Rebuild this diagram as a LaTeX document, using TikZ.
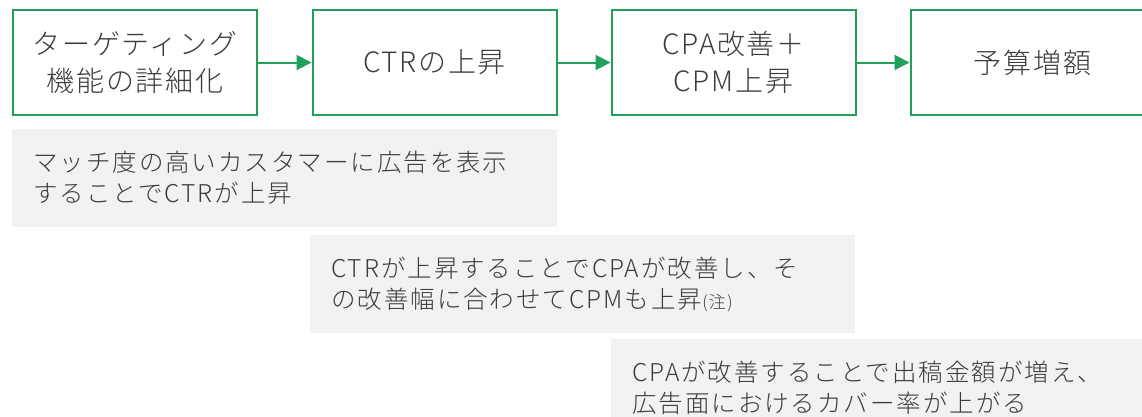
\documentclass[tikz,border=0pt]{standalone}
\usepackage{fontspec}
\setmainfont{Noto Sans CJK JP}[UprightFont={* Light}, BoldFont={* Bold}]
\usetikzlibrary{arrows.meta}
\definecolor{grn}{RGB}{33,160,92}
\definecolor{txt}{RGB}{60,60,60}
\definecolor{gbg}{RGB}{242,242,242}
\tikzset{
  stepbox/.style={draw=grn, line width=2pt, fill=white, minimum width=244pt, minimum height=105pt, align=center, text=txt, font=\fontsize{28}{37}\selectfont\addfontfeature{LetterSpace=6}, inner sep=0pt},
  note/.style={fill=gbg, anchor=north west, minimum width=545pt, minimum height=98pt, text width=503pt, inner xsep=21pt, inner ysep=0pt, align=left, text=txt, font=\fontsize{24.5}{31}\selectfont\addfontfeature{LetterSpace=8}},
  flow/.style={draw=grn, line width=2pt, -{Triangle[length=15pt,width=15pt]}}
}
\begin{document}
\begin{tikzpicture}[x=1pt,y=-1pt]
\useasboundingbox (0,0) rectangle (1142,416);
\fill[white] (0,0) rectangle (1142,416);
\node[stepbox] (b1) at (135,62.5) {ターゲティング\\機能の詳細化};
\node[stepbox] (b2) at (434.5,62.5) {CTRの上昇};
\node[stepbox] (b3) at (733.5,62.5) {CPA改善＋\\CPM上昇};
\node[stepbox] (b4) at (1032.5,62.5) {予算増額};
\draw[flow] (b1) -- (b2);
\draw[flow] (b2) -- (b3);
\draw[flow] (b3) -- (b4);
\node[note] (n1) at (12,129) {マッチ度の高いカスタマーに広告を表示\\することでCTRが上昇};
\node[note] (n2) at (310,235) {CTRが上昇することでCPAが改善し、そ\\の改善幅に合わせてCPMも上昇{\fontsize{17}{17}\selectfont(注)}};
\node[note] (n3) at (611,339) {CPAが改善することで出稿金額が増え、\\広告面におけるカバー率が上がる};
\end{tikzpicture}
\end{document}
